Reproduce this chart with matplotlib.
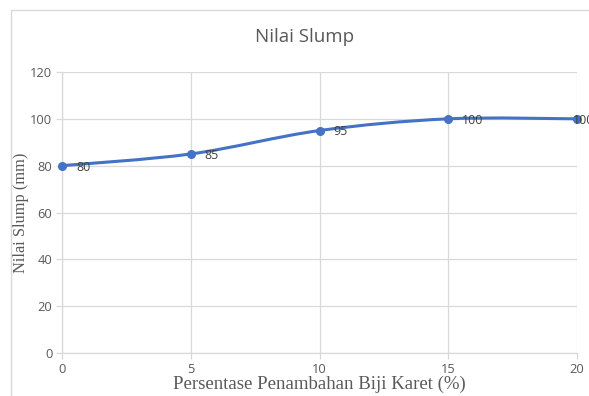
import numpy as np
import matplotlib
matplotlib.use("Agg")
import matplotlib.pyplot as plt
from matplotlib.path import Path
from matplotlib.patches import PathPatch, Rectangle

# Slump test values
persen = [0, 5, 10, 15, 20]
slump = [80, 85, 95, 100, 100]
x_ticks = [0, 5, 10, 15, 20]
y_ticks = [0, 20, 40, 60, 80, 100, 120]

LINE = "#4472C4"
TICK = "#595959"
GRID = "#D9D9D9"

fig = plt.figure(figsize=(5.89, 3.96), dpi=100)
fig.patch.set_facecolor("white")

# Chart-area frame
fig.patches.append(Rectangle((11 / 589, -0.1), 1.2, 1.1 - 10 / 396,
                             transform=fig.transFigure, fill=False,
                             edgecolor="#D9D9D9", linewidth=1.0, zorder=0))

ax = fig.add_axes([62 / 589, 1 - 353 / 396, (577 - 62) / 589, (353 - 72) / 396])
ax.set_xlim(0, 20)
ax.set_ylim(0, 120)
ax.set_xticks(x_ticks)
ax.set_yticks(y_ticks)
ax.grid(True, color=GRID, linewidth=0.9)
ax.set_axisbelow(True)
for s in ["top", "right"]:
    ax.spines[s].set_visible(False)
for s in ["left", "bottom"]:
    ax.spines[s].set_color(GRID)
    ax.spines[s].set_linewidth(0.9)
ax.tick_params(axis="both", colors=GRID, labelcolor=TICK, labelsize=9.3,
               length=4, width=0.9, direction="out", pad=3)
for lab in ax.get_xticklabels() + ax.get_yticklabels():
    lab.set_family("Open Sans")

# Smoothed connecting line (cubic Bezier through the points, Catmull-Rom style)
xs = np.array(persen, dtype=float)
ys = np.array(slump, dtype=float)
verts = [(xs[0], ys[0])]
codes = [Path.MOVETO]
n = len(xs)
for i in range(n - 1):
    p0 = np.array([xs[max(i - 1, 0)], ys[max(i - 1, 0)]])
    p1 = np.array([xs[i], ys[i]])
    p2 = np.array([xs[i + 1], ys[i + 1]])
    p3 = np.array([xs[min(i + 2, n - 1)], ys[min(i + 2, n - 1)]])
    c1 = p1 + (p2 - p0) / 6.0
    c2 = p2 - (p3 - p1) / 6.0
    verts += [tuple(c1), tuple(c2), tuple(p2)]
    codes += [Path.CURVE4] * 3
ax.add_patch(PathPatch(Path(verts, codes), facecolor="none", edgecolor=LINE,
                       linewidth=2.2, clip_on=False, zorder=3))
ax.plot(persen, slump, linestyle="none", marker="o", markersize=5.5,
        color=LINE, clip_on=False, zorder=4)

for i, (xv, yv) in enumerate(zip(persen, slump)):
    dx = 10 if i < len(persen) - 1 else -3
    ax.annotate(f"{yv}", (xv, yv), xytext=(dx, -1), textcoords="offset points",
                ha="left", va="center", fontsize=9, color="#404040",
                family="Open Sans", annotation_clip=False, zorder=5)

ax.set_xlabel("Persentase Penambahan Biji Karet (%)", family="Liberation Serif",
              fontsize=13.5, color=TICK, labelpad=0)
ax.set_ylabel("Nilai Slump (mm)", family="Liberation Serif",
              fontsize=11.8, color=TICK, labelpad=1)

fig.text(305 / 589, 1 - 37 / 396, "Nilai Slump", ha="center", va="center",
         fontsize=13.5, color=TICK, family="Open Sans")

fig.savefig("out.png", dpi=100)
